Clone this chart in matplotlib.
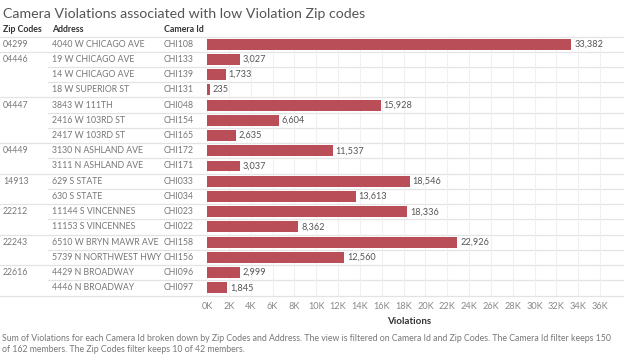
import matplotlib
matplotlib.use("Agg")
import matplotlib.pyplot as plt
from matplotlib.transforms import blended_transform_factory
from matplotlib.lines import Line2D

zip_codes = ["04299", "04446", "04446", "04446", "04447", "04447", "04447",
             "04449", "04449", "14913", "14913", "22212", "22212",
             "22243", "22243", "22616", "22616"]
addresses = ["4040 W CHICAGO AVE", "19 W CHICAGO AVE", "14 W CHICAGO AVE",
             "18 W SUPERIOR ST", "3843 W 111TH", "2416 W 103RD ST",
             "2417 W 103RD ST", "3130 N ASHLAND AVE", "3111 N ASHLAND AVE",
             "629 S STATE", "630 S STATE", "11144 S VINCENNES",
             "11153 S VINCENNES", "6510 W BRYN MAWR AVE",
             "5739 N NORTHWEST HWY", "4429 N BROADWAY", "4446 N BROADWAY"]
camera_ids = ["CHI108", "CHI133", "CHI139", "CHI131", "CHI048", "CHI154",
              "CHI165", "CHI172", "CHI171", "CHI033", "CHI034", "CHI023",
              "CHI022", "CHI158", "CHI156", "CHI096", "CHI097"]
violations = [33382, 3027, 1733, 235, 15928, 6604, 2635, 11537, 3037,
              18546, 13613, 18336, 8362, 22926, 12560, 2999, 1845]
tick_values = list(range(0, 37000, 2000))
tick_labels = [f"{v // 1000}K" for v in tick_values]

title = "Camera Violations associated with low Violation Zip codes"
headers = ["Zip Codes", "Address", "Camera Id"]
footnote = ("Sum of Violations for each Camera Id broken down by Zip Codes and Address. "
            "The view is filtered on Camera Id and Zip Codes. The Camera Id filter keeps 150\n"
            "of 162 members. The Zip Codes filter keeps 10 of 42 members.")

plt.rcParams['font.family'] = ['Lato', 'DejaVu Sans']

W, H = 624, 356
fig = plt.figure(figsize=(W / 100, H / 100), dpi=100)
fig.patch.set_facecolor("white")

ax_l, ax_r, ax_t, ax_b = 207, 611, 36.5, 295.5
ax = fig.add_axes([ax_l / W, 1 - ax_b / H, (ax_r - ax_l) / W, (ax_b - ax_t) / H])

n = len(violations)
rows = list(range(n))
bar_color = "#b94d58"
ax.barh(rows, violations, height=0.72, color=bar_color, zorder=3)
ax.set_ylim(n - 0.5, -0.5)
ax.set_xlim(0, 37000)
ax.set_yticks([])
ax.set_xticks(tick_values)
ax.set_xticklabels(tick_labels)
ax.tick_params(axis="x", length=0, pad=5, labelsize=6.6, labelcolor="#888888")
for s in ax.spines.values():
    s.set_visible(False)
ax.grid(axis="x", color="#f0f0f0", linewidth=0.8, zorder=0)
ax.set_xlabel("Violations", fontsize=7, fontweight="bold", color="#333333", labelpad=4)

for r, v in zip(rows, violations):
    ax.text(v + 250, r, f"{v:,}", va="center", ha="left", fontsize=6.6,
            color="#555555", zorder=4)

tr = blended_transform_factory(fig.transFigure, ax.transData)
col_x = [3, 52, 164]
cell_fs = 6.3

# header
for x, h in zip(col_x, headers):
    fig.text(x / W, 1 - 30 / H, h, fontsize=6.3, fontweight="bold",
             color="#333333", va="center", ha="left")

# cells
prev_zip = None
for r in rows:
    if zip_codes[r] != prev_zip:
        ax.text(col_x[0] / W, r, zip_codes[r], transform=tr, fontsize=cell_fs,
                color="#777777", va="center", ha="left", clip_on=False)
    ax.text(col_x[1] / W, r, addresses[r], transform=tr, fontsize=cell_fs,
            color="#777777", va="center", ha="left", clip_on=False)
    ax.text(col_x[2] / W, r, camera_ids[r], transform=tr, fontsize=cell_fs,
            color="#777777", va="center", ha="left", clip_on=False)
    prev_zip = zip_codes[r]

# separators
line_color = "#e3e3e3"
def hline(y, x0):
    ax.add_line(Line2D([x0 / W, 1.0], [y, y], transform=tr, color=line_color,
                       linewidth=0.9, clip_on=False, zorder=1))

hline(-0.5, 0)
for r in range(n - 1):
    if zip_codes[r] != zip_codes[r + 1]:
        hline(r + 0.5, 0)
    else:
        hline(r + 0.5, 48)
hline(n - 0.5, 0)

fig.text(3 / W, 1 - 14 / H, title, fontsize=10.2, color="#555555",
         va="center", ha="left")
fig.text(2 / W, 1 - 344 / H, footnote, fontsize=6.3, color="#777777",
         va="center", ha="left", linespacing=1.35)

fig.savefig("out.png", dpi=100, facecolor="white")
